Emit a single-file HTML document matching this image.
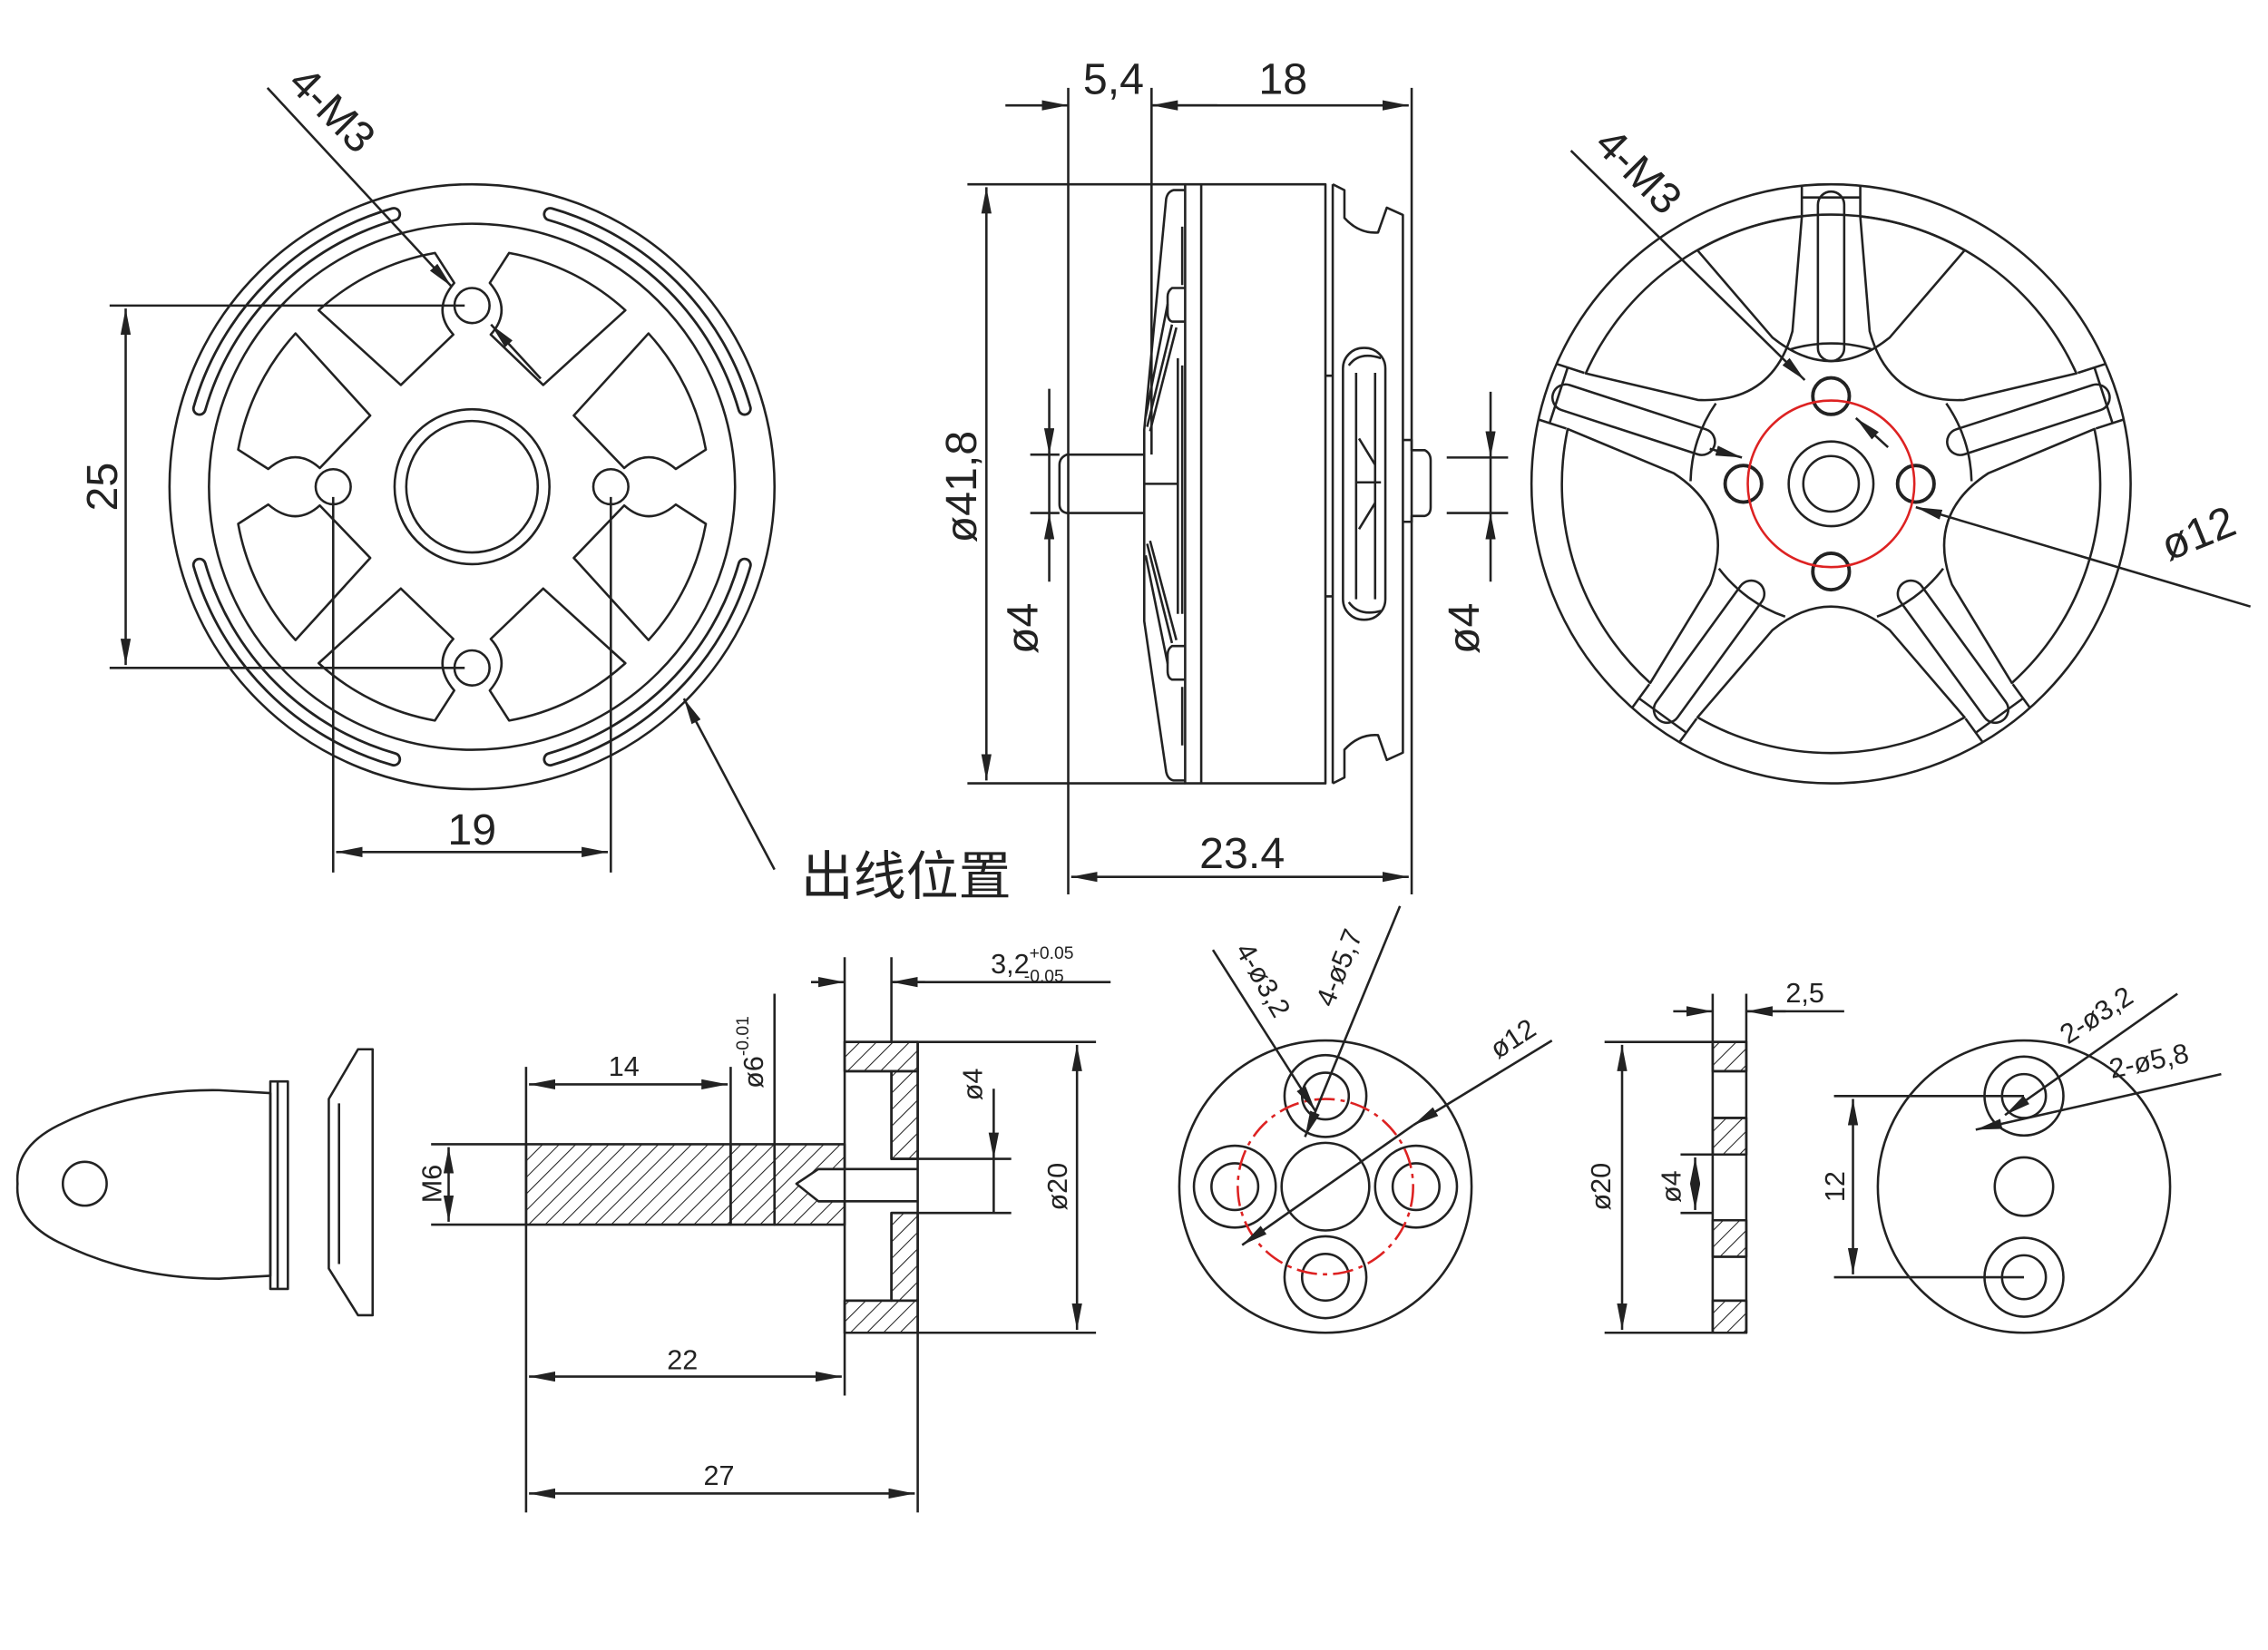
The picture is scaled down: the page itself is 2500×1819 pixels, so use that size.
<!DOCTYPE html>
<html><head><meta charset="utf-8"><style>
html,body{margin:0;padding:0;background:#fff}
svg{display:block}
text{font-family:"Liberation Sans","Noto Sans CJK SC",sans-serif;fill:#222}
</style></head><body>
<svg width="2500" height="1819" viewBox="0 0 1552 1129" xmlns="http://www.w3.org/2000/svg">
<defs>
<marker id="a" viewBox="0 0 18 7" refX="18" refY="3.5" markerWidth="18" markerHeight="7" markerUnits="userSpaceOnUse" orient="auto-start-reverse"><path d="M0,0 L18,3.5 L0,7 Z" fill="#222"/></marker>
<path id="cw" d="M83.7,14.8 L159.6,11.2 A160,160 0 0 1 131.1,95.2 L107.2,90 Q105.2,65.7 82.7,64.6 Z"/>
<path id="cw2" d="M83.7,-14.8 L159.6,-11.2 A160,160 0 0 0 131.1,-95.2 L107.2,-90 Q105.2,-65.7 82.7,-64.6 Z"/>
<pattern id="h" width="8" height="8" patternUnits="userSpaceOnUse" patternTransform="rotate(45)"><line x1="0" y1="0" x2="0" y2="8" stroke="#222" stroke-width="1.3"/></pattern>
</defs>
<rect width="1552" height="1129" fill="#fff"/>
<g fill="none" stroke="#222" stroke-width="1.6" stroke-linejoin="round">
<!-- LEFT VIEW -->
<g transform="translate(323,333)">
 <circle r="207"/>
 <circle r="180"/>
 <g id="slots">
  <path d="M-186.5,-53.5 A194,194 0 0 1 -53.5,-186.5" stroke-width="10" stroke-linecap="round"/>
  <path d="M-186.5,-53.5 A194,194 0 0 1 -53.5,-186.5" stroke="#fff" stroke-width="6.5" stroke-linecap="round"/>
 </g>
 <use href="#slots" transform="rotate(90)"/><use href="#slots" transform="rotate(180)"/><use href="#slots" transform="rotate(270)"/>
 <use href="#cw" transform="rotate(-135)"/><use href="#cw2" transform="rotate(-135)"/>
 <use href="#cw" transform="rotate(-45)"/><use href="#cw2" transform="rotate(-45)"/>
 <use href="#cw" transform="rotate(45)"/><use href="#cw2" transform="rotate(45)"/>
 <use href="#cw" transform="rotate(135)"/><use href="#cw2" transform="rotate(135)"/>
 <circle r="53"/><circle r="45"/>
 <circle cx="0" cy="-124" r="12"/><circle cx="-95" cy="0" r="12"/><circle cx="95" cy="0" r="12"/><circle cx="0" cy="124" r="12"/>
</g>
<line x1="75" y1="209" x2="318" y2="209"/><line x1="75" y1="457" x2="318" y2="457"/>
<line x1="86" y1="211" x2="86" y2="455" marker-start="url(#a)" marker-end="url(#a)"/>
<line x1="228" y1="340" x2="228" y2="597"/><line x1="418" y1="340" x2="418" y2="597"/>
<line x1="230" y1="583" x2="416" y2="583" marker-start="url(#a)" marker-end="url(#a)"/>
<line x1="183" y1="60" x2="309" y2="196" marker-end="url(#a)"/>
<line x1="370" y1="259" x2="336" y2="222" marker-end="url(#a)"/>
<line x1="530" y1="595" x2="468" y2="478" marker-end="url(#a)"/>
<!-- MIDDLE SIDE VIEW -->
<rect x="811" y="126" width="96" height="410"/>
<line x1="822" y1="126" x2="822" y2="536"/>
<path d="M811,130 L803,130 Q799,131 798,136 L783,294 L783,425 L798,528 Q799,533 803,534 L811,534"/>
<path d="M809,155 L809,195 M809,250 L809,420 M809,470 L809,510 M806,245 L806,420"/>
<path d="M811,197 L802,197 Q799,199 799,203 L799,214 Q799,219 802,220 L811,220"/>
<path d="M811,442 L802,442 Q799,444 799,448 L799,459 Q799,464 802,465 L811,465"/>
<path d="M799,208 L784,285 M802,222 L785,292 M805,224 L787,295"/>
<path d="M799,454 L784,380 M802,440 L785,372 M805,438 L787,370"/>
<path d="M783,331 L806,331"/>
<path d="M783,311 L730,311 Q725,313 725,318 L725,345 Q725,350 730,351 L783,351"/>
<line x1="912" y1="126" x2="912" y2="536"/>
<path d="M912,126 L920,130 L920,149 Q930,160 943,159 L949,142 L960,147 L960,515 L949,520 L943,503 Q930,502 920,513 L920,532 L912,536"/>
<path d="M907,257 L912,257 M907,408 L912,408"/>
<rect x="919" y="238" width="29" height="186" rx="14"/>
<path d="M923,250 Q930,240 945,245 M928,255 L928,410 M941,255 L941,410 M928,330 L945,330 M930,300 L941,318 M930,362 L941,344 M923,412 Q930,422 945,418"/>
<path d="M960,301 L966,301 L966,308 L975,308 Q979,310 979,315 L979,347 Q979,352 975,353 L966,353 L966,357 L960,357"/>
<line x1="662" y1="126" x2="811" y2="126"/><line x1="662" y1="536" x2="811" y2="536"/>
<line x1="675" y1="128" x2="675" y2="534" marker-start="url(#a)" marker-end="url(#a)"/>
<line x1="705" y1="311" x2="725" y2="311"/><line x1="705" y1="351" x2="725" y2="351"/>
<line x1="718" y1="266" x2="718" y2="311" marker-end="url(#a)"/><line x1="718" y1="398" x2="718" y2="351" marker-end="url(#a)"/><line x1="718" y1="311" x2="718" y2="351"/>
<line x1="990" y1="313" x2="1032" y2="313"/><line x1="990" y1="351" x2="1032" y2="351"/>
<line x1="1020" y1="268" x2="1020" y2="313" marker-end="url(#a)"/><line x1="1020" y1="398" x2="1020" y2="351" marker-end="url(#a)"/><line x1="1020" y1="313" x2="1020" y2="351"/>
<line x1="731" y1="60" x2="731" y2="612"/><line x1="788" y1="60" x2="788" y2="311"/><line x1="966" y1="60" x2="966" y2="612"/>
<line x1="688" y1="72" x2="731" y2="72" marker-end="url(#a)"/><line x1="833" y1="72" x2="788" y2="72" marker-end="url(#a)"/><line x1="788" y1="72" x2="964" y2="72" marker-end="url(#a)"/>
<line x1="733" y1="600" x2="964" y2="600" marker-start="url(#a)" marker-end="url(#a)"/>
<!-- RIGHT VIEW -->
<g transform="translate(1253,331)">
 <circle r="205"/>
 <g id="pk"><path d="M-91.4,-159.8 L-40,-100 Q0,-68 40,-100 L91.4,-159.8 A183,183 0 0 0 -91.4,-159.8 Z"/></g>
 <g id="sp">
  <path d="M-20,-184 L-20,-204 M20,-184 L20,-204 M-20,-196 L20,-196"/>
  <rect x="-9" y="-200" width="18" height="116" rx="9"/>
  <path d="M-28,-92 A97,97 0 0 1 28,-92"/>
 </g>
 <use href="#pk" transform="rotate(36)"/><use href="#pk" transform="rotate(108)"/><use href="#pk" transform="rotate(180)"/><use href="#pk" transform="rotate(252)"/><use href="#pk" transform="rotate(324)"/>
 <use href="#sp" transform="rotate(72)"/><use href="#sp" transform="rotate(144)"/><use href="#sp" transform="rotate(216)"/><use href="#sp" transform="rotate(288)"/>
 <circle r="29"/><circle r="19"/>
 <g stroke-width="2.4"><circle cx="0" cy="-60" r="12.5"/><circle cx="-60" cy="0" r="12.5"/><circle cx="58" cy="0" r="12.5"/><circle cx="0" cy="60" r="12.5"/></g>
 <circle r="57" stroke="#d22"/>
</g>
<line x1="1075" y1="103" x2="1235" y2="260" marker-end="url(#a)"/><line x1="1292" y1="306" x2="1270" y2="286" marker-end="url(#a)"/>
<line x1="1170" y1="307" x2="1192" y2="313" marker-end="url(#a)"/><line x1="1540" y1="415" x2="1311" y2="347" marker-end="url(#a)"/>
<!-- BOTTOM: BULLET NUT -->
<path d="M185,748 L150,746 Q90,745 40,770 Q10,785 12,810 Q10,835 40,850 Q90,875 150,875 L185,873 Z"/>
<circle cx="58" cy="810" r="15"/>
<path d="M185,740 L197,740 L197,882 L185,882 Z M190,740 L190,882"/>
<path d="M245,718 L255,718 L255,900 L245,900 L225,868 L225,752 Z M232,755 L232,865"/>
<!-- SHAFT SECTION -->
<rect x="360" y="783" width="140" height="55" fill="url(#h)"/>
<rect x="500" y="783" width="30" height="55" fill="url(#h)"/>
<path d="M530,783 L578,783 L578,800 L560,800 L545,810 L560,822 L578,822 L578,838 L530,838 Z" fill="url(#h)"/>
<rect x="578" y="713" width="50" height="20" fill="url(#h)"/><rect x="578" y="890" width="50" height="22" fill="url(#h)"/>
<rect x="610" y="733" width="18" height="60" fill="url(#h)"/><rect x="610" y="830" width="18" height="60" fill="url(#h)"/>
<path d="M578,713 L628,713 L628,912 L578,912 Z M578,733 L610,733 L610,793 L628,793 M578,890 L610,890 L610,830 L628,830 M560,800 L628,800 M560,822 L628,822"/>
<line x1="578" y1="655" x2="578" y2="713"/><line x1="610" y1="655" x2="610" y2="713"/>
<line x1="555" y1="672" x2="578" y2="672" marker-end="url(#a)"/><line x1="633" y1="672" x2="610" y2="672" marker-end="url(#a)"/><line x1="610" y1="672" x2="760" y2="672"/>
<line x1="360" y1="730" x2="360" y2="1035"/><line x1="500" y1="730" x2="500" y2="783"/><line x1="530" y1="680" x2="530" y2="783"/>
<line x1="362" y1="742" x2="498" y2="742" marker-start="url(#a)" marker-end="url(#a)"/>
<line x1="578" y1="912" x2="578" y2="955"/><line x1="628" y1="912" x2="628" y2="1035"/>
<line x1="362" y1="942" x2="576" y2="942" marker-start="url(#a)" marker-end="url(#a)"/>
<line x1="362" y1="1022" x2="626" y2="1022" marker-start="url(#a)" marker-end="url(#a)"/>
<line x1="295" y1="783" x2="360" y2="783"/><line x1="295" y1="838" x2="360" y2="838"/>
<line x1="307" y1="785" x2="307" y2="836" marker-start="url(#a)" marker-end="url(#a)"/>
<line x1="628" y1="713" x2="750" y2="713"/><line x1="628" y1="912" x2="750" y2="912"/>
<line x1="737" y1="715" x2="737" y2="910" marker-start="url(#a)" marker-end="url(#a)"/>
<line x1="628" y1="793" x2="692" y2="793"/><line x1="628" y1="830" x2="692" y2="830"/>
<line x1="680" y1="745" x2="680" y2="793" marker-end="url(#a)"/><line x1="680" y1="830" x2="680" y2="793"/>
<!-- PROP ADAPTER FRONT -->
<circle cx="907" cy="812" r="100"/>
<circle cx="907" cy="812" r="30"/>
<g><circle cx="907" cy="750" r="28"/><circle cx="907" cy="750" r="16"/><circle cx="845" cy="812" r="28"/><circle cx="845" cy="812" r="16"/><circle cx="969" cy="812" r="28"/><circle cx="969" cy="812" r="16"/><circle cx="907" cy="874" r="28"/><circle cx="907" cy="874" r="16"/></g>
<circle cx="907" cy="812" r="60" stroke="#d22" stroke-dasharray="14 4 3 4"/>
<line x1="830" y1="650" x2="900" y2="760" marker-end="url(#a)"/>
<line x1="958" y1="620" x2="893" y2="778" marker-end="url(#a)"/>
<line x1="1062" y1="712" x2="967" y2="770" marker-end="url(#a)"/><line x1="967" y1="770" x2="850" y2="852" marker-end="url(#a)"/>
<!-- WASHER SIDE -->
<rect x="1172" y="713" width="23" height="20" fill="url(#h)"/><rect x="1172" y="765" width="23" height="25" fill="url(#h)"/><rect x="1172" y="835" width="23" height="25" fill="url(#h)"/><rect x="1172" y="890" width="23" height="22" fill="url(#h)"/>
<path d="M1172,713 L1195,713 L1195,912 L1172,912 Z M1172,733 L1195,733 M1172,765 L1195,765 M1172,790 L1195,790 M1172,835 L1195,835 M1172,860 L1195,860 M1172,890 L1195,890"/>
<line x1="1098" y1="713" x2="1172" y2="713"/><line x1="1098" y1="912" x2="1172" y2="912"/>
<line x1="1110" y1="715" x2="1110" y2="910" marker-start="url(#a)" marker-end="url(#a)"/>
<line x1="1150" y1="790" x2="1172" y2="790"/><line x1="1150" y1="830" x2="1172" y2="830"/>
<line x1="1160" y1="792" x2="1160" y2="828" marker-start="url(#a)" marker-end="url(#a)"/>
<line x1="1172" y1="680" x2="1172" y2="713"/><line x1="1195" y1="680" x2="1195" y2="713"/>
<line x1="1145" y1="692" x2="1172" y2="692" marker-end="url(#a)"/><line x1="1222" y1="692" x2="1195" y2="692" marker-end="url(#a)"/><line x1="1195" y1="692" x2="1262" y2="692"/>
<!-- WASHER FRONT -->
<circle cx="1385" cy="812" r="100"/>
<circle cx="1385" cy="750" r="27"/><circle cx="1385" cy="750" r="15"/>
<circle cx="1385" cy="812" r="20"/>
<circle cx="1385" cy="874" r="27"/><circle cx="1385" cy="874" r="15"/>
<line x1="1255" y1="750" x2="1385" y2="750"/><line x1="1255" y1="874" x2="1385" y2="874"/>
<line x1="1268" y1="752" x2="1268" y2="872" marker-start="url(#a)" marker-end="url(#a)"/>
<line x1="1490" y1="680" x2="1372" y2="763" marker-end="url(#a)"/>
<line x1="1520" y1="735" x2="1352" y2="773" marker-end="url(#a)"/>
</g>
<!-- TEXT -->
<g font-size="30">
<text x="0" y="0" transform="translate(196,58) rotate(45)">4-M3</text>
<text x="0" y="0" text-anchor="middle" transform="translate(80,333) rotate(-90)">25</text>
<text x="323" y="578" text-anchor="middle">19</text>
<text x="548" y="612" font-size="36">出线位置</text>
<text x="762" y="64" text-anchor="middle">5,4</text>
<text x="878" y="64" text-anchor="middle">18</text>
<text x="0" y="0" text-anchor="middle" transform="translate(668,333) rotate(-90)">ø41,8</text>
<text x="0" y="0" text-anchor="middle" transform="translate(710,430) rotate(-90)">ø4</text>
<text x="0" y="0" text-anchor="middle" transform="translate(1012,430) rotate(-90)">ø4</text>
<text x="850" y="594" text-anchor="middle">23.4</text>
<text x="0" y="0" transform="translate(1090,100) rotate(45)">4-M3</text>
<text x="0" y="0" transform="translate(1484,384) rotate(-22)">ø12</text>
</g>
<g font-size="19">
<text x="427" y="736" text-anchor="middle">14</text>
<text x="467" y="937" text-anchor="middle">22</text>
<text x="492" y="1016" text-anchor="middle">27</text>
<text x="0" y="0" text-anchor="middle" transform="translate(302,810) rotate(-90)">M6</text>
<text x="0" y="0" text-anchor="middle" transform="translate(672,742) rotate(-90)">ø4</text>
<text x="0" y="0" text-anchor="middle" transform="translate(730,812) rotate(-90)">ø20</text>
<text x="0" y="0" text-anchor="middle" transform="translate(522,720) rotate(-90)">ø6<tspan font-size="12" dy="-10">-0.01</tspan></text>
<text x="678" y="666">3,2<tspan font-size="12" dy="-10">+0.05</tspan><tspan font-size="12" dx="-34" dy="16">-0.05</tspan></text>
<text x="0" y="0" transform="translate(845,650) rotate(60)">4-ø3,2</text>
<text x="0" y="0" transform="translate(912,690) rotate(-68)">4-ø5,7</text>
<text x="0" y="0" transform="translate(1025,725) rotate(-33)">ø12</text>
<text x="0" y="0" text-anchor="middle" transform="translate(1102,812) rotate(-90)">ø20</text>
<text x="0" y="0" text-anchor="middle" transform="translate(1150,812) rotate(-90)">ø4</text>
<text x="1222" y="686">2,5</text>
<text x="0" y="0" text-anchor="middle" transform="translate(1262,812) rotate(-90)">12</text>
<text x="0" y="0" transform="translate(1415,715) rotate(-33)">2-ø3,2</text>
<text x="0" y="0" transform="translate(1445,738) rotate(-12)">2-ø5,8</text>
</g>
</svg>
</body></html>
